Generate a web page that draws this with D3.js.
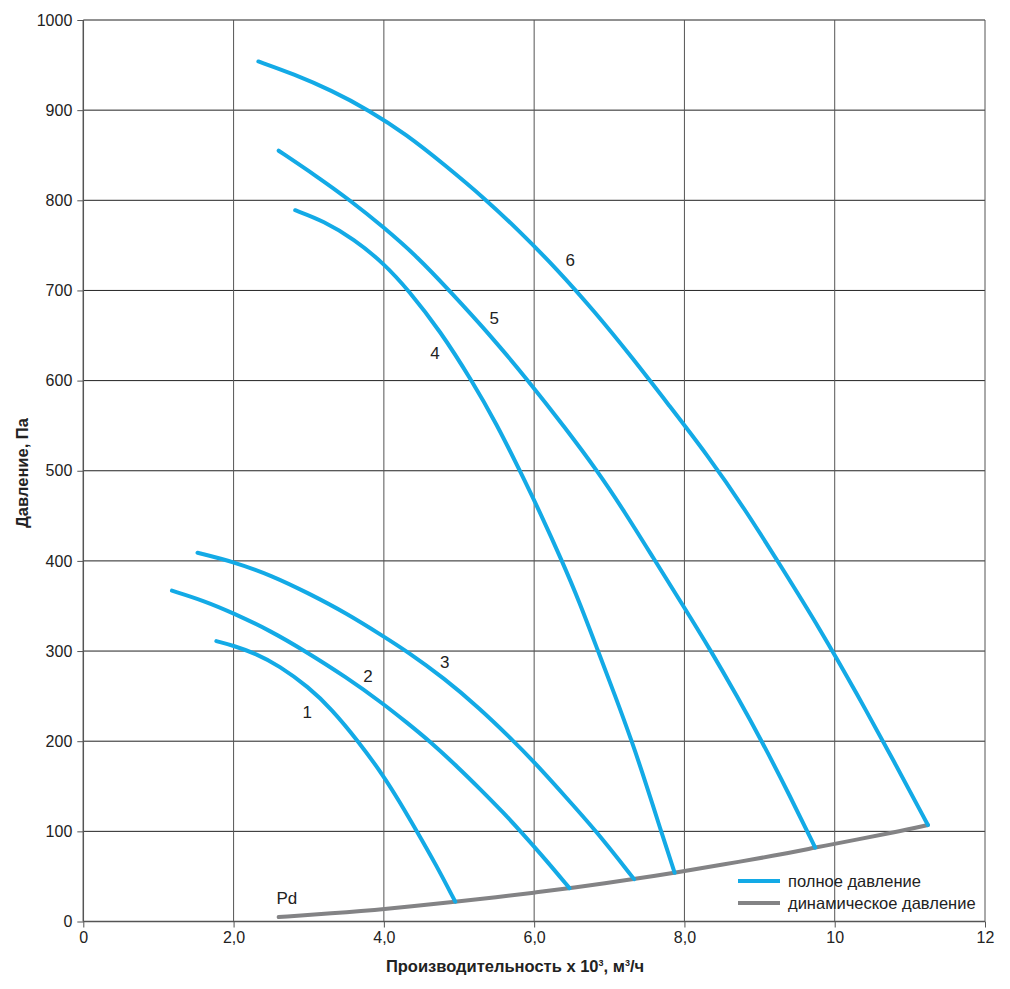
<!DOCTYPE html>
<html>
<head>
<meta charset="utf-8">
<script src="https://cdn.jsdelivr.net/npm/d3@7"></script>
<style>
  body { margin: 0; background: #fff; }
  text { font-family: "Liberation Sans", Arial, sans-serif; }
</style>
</head>
<body>
<div id="chart"></div>
<script>
// curve data (x in 10^3 m3/h, y in Pa)
var curve1 = [[1.77,311],[2.0,306],[2.3,297],[2.6,284],[3.0,260],[3.3,236],[3.66,200],[4.0,161],[4.2,134],[4.44,100],[4.7,62],[4.95,22]]
var curve2 = [[1.18,367],[1.6,356],[2.0,342],[2.5,322],[2.93,301],[3.5,271],[4.0,241],[4.3,221],[4.61,200],[5.0,170],[5.28,147],[5.6,120],[5.83,99],[6.15,69],[6.47,37]]
var curve3 = [[1.52,409],[2.0,399],[2.5,384],[3.0,364],[3.5,342],[4.0,316],[4.3,300],[4.8,270],[5.28,236],[5.68,204],[6.0,177],[6.4,140],[6.83,100],[7.33,47]]
var curve4 = [[2.82,789],[3.2,777],[3.6,757],[4.0,730],[4.33,700],[4.75,655],[5.17,600],[5.5,552],[5.81,500],[6.1,450],[6.37,400],[6.6,355],[6.85,300],[7.08,250],[7.3,200],[7.5,150],[7.67,105],[7.87,54]]
var curve5 = [[2.6,855],[3.1,827],[3.55,800],[4.0,770],[4.45,737],[4.87,700],[5.4,652],[5.92,600],[6.4,549],[6.84,500],[7.2,455],[7.58,404],[8.0,348],[8.34,302],[8.7,250],[9.03,200],[9.4,140],[9.74,82]]
var curve6 = [[2.33,954],[2.8,940],[3.3,922],[3.8,900],[4.3,873],[4.8,840],[5.37,800],[5.8,766],[6.3,724],[6.8,677],[7.3,626],[7.8,572],[8.3,518],[8.8,458],[9.3,392],[9.8,325],[10.3,252],[10.8,176],[11.24,107]]
var pdCurve = [[2.6,5],[3.3,9],[4.0,13.5],[4.95,22],[5.5,27],[6.0,32],[6.47,37],[7.33,47],[7.87,54],[8.5,63],[9.2,73],[9.74,82],[10.3,91],[10.8,99],[11.24,107]]

var curveNames = ["1","2","3","4","5","6"]
var labelPos = [[2.98,232],[3.79,272],[4.81,287],[4.68,630],[5.47,669],[6.48,733]]

var xTicks = [0,2,4,6,8,10,12]
var xTickLabels = ["0","2,0","4,0","6,0","8,0","10","12"]
var yTicks = [0,100,200,300,400,500,600,700,800,900,1000]
var legendLabels = ["полное давление","динамическое давление"]

var blue = "#13aae6", grey = "#838385"

var svg = d3.select("#chart").append("svg").attr("width",1010).attr("height",989)

var x = d3.scaleLinear().domain([0,12]).range([83.3,985])
var y = d3.scaleLinear().domain([0,1000]).range([921.5,20])

// grid
svg.append("g").selectAll("line").data(yTicks).enter().append("line")
    .attr("x1",x(0)).attr("x2",x(12))
    .attr("y1",function(d){return y(d)}).attr("y2",function(d){return y(d)})
    .attr("stroke",function(d){return d==0 ? "#555" : "#222"})
    .attr("stroke-width",function(d){return d==0 ? 1.5 : 1})
svg.append("g").selectAll("line").data(xTicks).enter().append("line")
    .attr("x1",function(d){return x(d)}).attr("x2",function(d){return x(d)})
    .attr("y1",y(0)).attr("y2",y(1000))
    .attr("stroke","#555")
    .attr("stroke-width",function(d){return d==0 ? 1.5 : 1})

// axes
var xAxis = d3.axisBottom(x).tickValues(xTicks).tickSize(6).tickPadding(4)
    .tickFormat(function(d,i){return xTickLabels[i]})
var gx = svg.append("g").attr("transform","translate(0,"+y(0)+")").call(xAxis)
var yAxis = d3.axisLeft(y).tickValues(yTicks).tickSize(6).tickPadding(5)
    .tickFormat(function(d){return String(d)})
var gy = svg.append("g").attr("transform","translate("+x(0)+",0)").call(yAxis)
gx.select(".domain").remove()
gy.select(".domain").remove()
svg.selectAll(".tick line").attr("stroke","#555")
svg.selectAll(".tick text").attr("font-size",16).attr("fill","#222")
    .style("font-family","'Liberation Sans', Arial, sans-serif")

// axis titles
svg.append("text").attr("x",515).attr("y",972).attr("text-anchor","middle")
    .attr("font-size",16.5).attr("font-weight","bold").attr("fill","#222")
    .html("Производительность x 10<tspan dy='-6' font-size='9'>3</tspan><tspan dy='6'>, м</tspan><tspan dy='-6' font-size='9'>3</tspan><tspan dy='6'>/ч</tspan>")
svg.append("text").attr("transform","translate(28,473) rotate(-90)").attr("text-anchor","middle")
    .attr("font-size",16.5).attr("font-weight","bold").attr("fill","#222")
    .text("Давление, Па")

// B-spline smooths the hand-read points, ends stay fixed on Pd
var line = d3.line().x(function(d){return x(d[0])}).y(function(d){return y(d[1])})
    .curve(d3.curveBasis)

svg.append("path").datum(pdCurve).attr("d",line)
    .attr("fill","none").attr("stroke",grey).attr("stroke-width",4).attr("stroke-linecap","round")

var curves = [curve1,curve2,curve3,curve4,curve5,curve6]
svg.append("g").selectAll("path").data(curves).enter().append("path")
    .attr("d",line)
    .attr("fill","none").attr("stroke",blue).attr("stroke-width",4).attr("stroke-linecap","round")

svg.append("g").selectAll("text").data(curveNames).enter().append("text")
    .attr("x",function(d,i){return x(labelPos[i][0])})
    .attr("y",function(d,i){return y(labelPos[i][1])})
    .attr("text-anchor","middle").attr("dominant-baseline","central")
    .attr("font-size",17).attr("fill","#222")
    .text(function(d){return d})

svg.append("text").attr("x",x(2.71)).attr("y",y(26)).attr("text-anchor","middle")
    .attr("dominant-baseline","central").attr("font-size",17).attr("fill","#222").text("Pd")

// legend
var legend = svg.append("g").attr("transform","translate(738,881)")
legend.selectAll("line").data(legendLabels).enter().append("line")
    .attr("x1",0).attr("x2",42)
    .attr("y1",function(d,i){return i*22}).attr("y2",function(d,i){return i*22})
    .attr("stroke",function(d,i){return i==0 ? blue : grey}).attr("stroke-width",4)
legend.selectAll("text").data(legendLabels).enter().append("text")
    .attr("x",50).attr("y",function(d,i){return i*22})
    .attr("dominant-baseline","central").attr("font-size",16.5).attr("fill","#222")
    .text(function(d){return d})
</script>
</body>
</html>
